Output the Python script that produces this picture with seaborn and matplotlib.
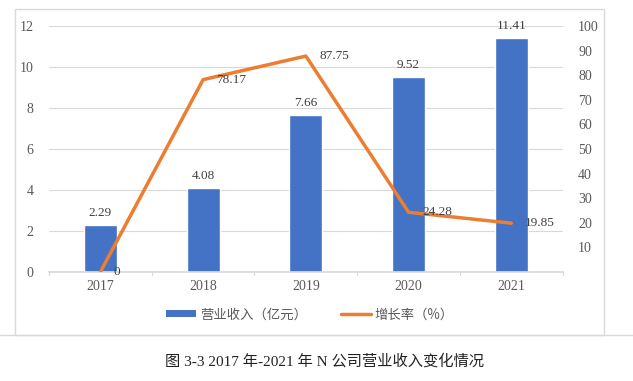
import numpy as np
import pandas as pd
import seaborn as sns
import matplotlib.pyplot as plt
from matplotlib.patches import Patch, Rectangle
from matplotlib.lines import Line2D

years = ["2017", "2018", "2019", "2020", "2021"]
revenue = [2.29, 4.08, 7.66, 9.52, 11.41]
growth = [0, 78.17, 87.75, 24.28, 19.85]

sns.set_theme(style="white")
plt.rcParams['font.family'] = ['Liberation Serif', 'Noto Sans CJK SC']

df = pd.DataFrame({"year": years, "revenue": revenue, "growth": growth})

fig = plt.figure(figsize=(6.33, 3.81), dpi=100)
ax = fig.add_axes([0.0774, 0.286, 0.8116, 0.646])

sns.barplot(data=df, x="year", y="revenue", color="#4472C4", width=0.32,
            saturation=1, ax=ax, zorder=2)
ax.set_ylim(0, 12)
ax.set_yticks(range(0, 13, 2))
ax.set_xlim(-0.5, 4.5)
ax.grid(axis="y", color="#d9d9d9", linewidth=0.8, zorder=0)
ax.set_axisbelow(True)
for s in ["top", "right", "left"]:
    ax.spines[s].set_visible(False)
ax.spines["bottom"].set_color("#d9d9d9")
ax.set_xlabel("")
ax.set_ylabel("")
ax.tick_params(axis="y", length=0, pad=11, labelsize=10, labelcolor="#595959")
ax.tick_params(axis="x", length=0, pad=6, labelsize=10, labelcolor="#595959")
# boundary tick marks between categories
for b in np.arange(-0.5, 5, 1):
    ax.plot([b, b], [0, -0.15], color="#d9d9d9", lw=0.8, clip_on=False)

for i, v in enumerate(revenue):
    ax.text(i, v + 0.3, f"{v:.2f}", ha="center", va="bottom", fontsize=9.5,
            color="#404040")

ax2 = ax.twinx()
sns.lineplot(x=np.arange(len(years)), y=growth, color="#ED7D31", lw=2.5,
             ax=ax2, zorder=3)
ax2.set_ylim(0, 100)
ax2.set_yticks(range(0, 101, 10))
ax2.set_yticklabels([""] + [str(t) for t in range(10, 101, 10)])
for s in ["top", "right", "left", "bottom"]:
    ax2.spines[s].set_visible(False)
ax2.tick_params(axis="y", length=0, pad=11, labelsize=10, labelcolor="#595959")
ax2.set_xlim(-0.5, 4.5)

for i, v in enumerate(growth):
    label = "0" if v == 0 else f"{v:.2f}"
    ax2.text(i + 0.13, v, label, ha="left", va="center", fontsize=9.5,
             color="#404040")

handles = [Patch(facecolor="#4472C4", edgecolor="none"),
           Line2D([0], [0], color="#ED7D31", lw=2.5)]
fig.legend(handles, ["营业收入（亿元）", "增长率（%）"], loc="center",
           bbox_to_anchor=(0.49, 0.175), ncol=2, frameon=False,
           handlelength=2.2, handleheight=0.45, handletextpad=0.3,
           columnspacing=2.6, labelcolor="#595959",
           prop={"family": ["Noto Sans CJK SC"], "size": 9.6})

# outer chart frame
fig.patches.append(Rectangle((15 / 633, 1 - 335 / 381), 589 / 633, 326 / 381,
                             transform=fig.transFigure, fill=False,
                             edgecolor="#d9d9d9", lw=1))
fig.add_artist(Line2D([0, 1], [1 - 335 / 381] * 2, color="#d9d9d9", lw=1,
                      transform=fig.transFigure))

fig.text(0.513, 1 - 361 / 381, "图 3-3 2017 年-2021 年 N 公司营业收入变化情况",
         ha="center", va="center", fontsize=11, color="#222222")

plt.savefig("out.png", dpi=100)
plt.close()
